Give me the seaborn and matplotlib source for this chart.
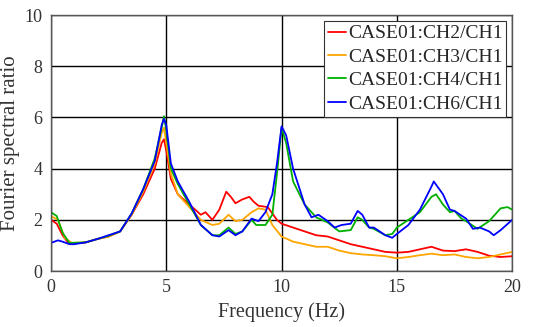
import numpy as np
import pandas as pd
import seaborn as sns
import matplotlib
matplotlib.use("Agg")
import matplotlib.pyplot as plt

series_names = ["CASE01:CH2/CH1", "CASE01:CH3/CH1", "CASE01:CH4/CH1", "CASE01:CH6/CH1"]
colors = ["#ff0000", "#ffa500", "#00b000", "#0000ff"]

ch2_f = [0, 0.25, 0.5, 0.75, 1.0, 1.5, 2.0, 2.5, 3.0, 3.5, 4.0, 4.5, 4.8, 4.9, 5.0, 5.2, 5.5, 6.0, 6.5, 6.7, 7.0, 7.3, 7.6, 7.8, 8.0, 8.3, 8.6, 8.8, 9.0, 9.4, 9.8, 10.0, 10.5, 11.0, 11.5, 12.0, 12.5, 13.0, 13.5, 14.0, 14.5, 15.0, 15.5, 16.0, 16.5, 17.0, 17.5, 18.0, 18.5, 19.0, 19.5, 20.0]
ch2_v = [2.0, 1.85, 1.4, 1.1, 1.08, 1.12, 1.25, 1.35, 1.55, 2.2, 3.0, 4.0, 5.0, 5.15, 4.7, 3.6, 3.0, 2.6, 2.2, 2.3, 2.0, 2.4, 3.1, 2.9, 2.65, 2.8, 2.9, 2.7, 2.55, 2.5, 2.0, 1.85, 1.7, 1.55, 1.4, 1.35, 1.2, 1.05, 0.95, 0.85, 0.75, 0.72, 0.75, 0.85, 0.95, 0.8, 0.78, 0.85, 0.75, 0.6, 0.55, 0.58]

ch3_f = [0, 0.3, 0.6, 0.9, 1.5, 2.0, 2.5, 3.0, 3.5, 4.0, 4.5, 4.8, 4.9, 5.0, 5.2, 5.5, 6.0, 6.5, 7.0, 7.3, 7.7, 8.0, 8.3, 8.7, 9.0, 9.3, 9.6, 10.0, 10.5, 11.0, 11.5, 12.0, 12.5, 13.0, 13.5, 14.0, 14.5, 15.0, 15.5, 16.0, 16.5, 17.0, 17.5, 18.0, 18.5, 19.0, 19.5, 20.0]
ch3_v = [2.15, 2.0, 1.3, 1.1, 1.12, 1.25, 1.35, 1.55, 2.2, 3.1, 4.2, 5.4, 5.6, 5.0, 3.8, 3.0, 2.5, 2.0, 1.8, 1.85, 2.2, 1.95, 2.0, 2.3, 2.45, 2.4, 1.8, 1.35, 1.15, 1.05, 0.95, 0.95, 0.8, 0.7, 0.65, 0.62, 0.58, 0.5, 0.55, 0.62, 0.68, 0.62, 0.65, 0.55, 0.5, 0.55, 0.65, 0.75]

ch4_f = [0, 0.25, 0.5, 0.8, 1.5, 2.0, 2.5, 3.0, 3.5, 4.0, 4.5, 4.8, 4.9, 5.0, 5.2, 5.5, 6.0, 6.5, 7.0, 7.3, 7.7, 8.0, 8.3, 8.7, 8.9, 9.3, 9.6, 9.8, 10.0, 10.2, 10.5, 11.0, 11.5, 12.0, 12.5, 13.0, 13.3, 13.5, 13.8, 14.0, 14.5, 14.8, 15.0, 15.5, 16.0, 16.5, 16.7, 17.0, 17.3, 17.5, 17.8, 18.0, 18.5, 19.0, 19.5, 19.8, 20.0]
ch4_v = [2.3, 2.15, 1.5, 1.1, 1.12, 1.25, 1.38, 1.55, 2.25, 3.2, 4.4, 5.6, 6.05, 5.5, 4.0, 3.4, 2.6, 1.8, 1.4, 1.4, 1.7, 1.45, 1.55, 2.0, 1.8, 1.8, 2.2, 3.8, 5.6, 5.0, 3.5, 2.6, 2.1, 1.9, 1.55, 1.6, 2.1, 2.0, 1.7, 1.65, 1.4, 1.45, 1.7, 2.0, 2.3, 2.9, 3.0, 2.6, 2.3, 2.35, 2.05, 1.95, 1.65, 1.95, 2.45, 2.5, 2.4]

ch6_f = [0, 0.3, 0.5, 0.8, 1.0, 1.5, 2.0, 2.5, 3.0, 3.5, 4.0, 4.5, 4.8, 4.9, 5.0, 5.2, 5.5, 6.0, 6.5, 7.0, 7.3, 7.7, 8.0, 8.3, 8.7, 9.0, 9.3, 9.6, 9.8, 10.0, 10.2, 10.5, 11.0, 11.3, 11.6, 12.0, 12.3, 12.6, 13.0, 13.3, 13.5, 13.8, 14.0, 14.5, 14.8, 15.0, 15.5, 16.0, 16.5, 16.6, 17.0, 17.3, 17.5, 18.0, 18.3, 18.6, 19.0, 19.2, 19.5, 20.0]
ch6_v = [1.1, 1.2, 1.15, 1.05, 1.05, 1.12, 1.25, 1.4, 1.55, 2.25, 3.2, 4.3, 5.7, 5.95, 5.7, 4.2, 3.5, 2.7, 1.8, 1.4, 1.35, 1.6, 1.4, 1.55, 2.05, 1.95, 2.3, 3.0, 4.2, 5.65, 5.3, 4.0, 2.6, 2.1, 2.2, 1.95, 1.7, 1.8, 1.85, 2.35, 2.2, 1.7, 1.7, 1.4, 1.3, 1.45, 1.8, 2.4, 3.3, 3.5, 3.0, 2.4, 2.35, 2.05, 1.65, 1.7, 1.55, 1.4, 1.6, 2.0]

frames = []
for name, f, v in zip(series_names, [ch2_f, ch3_f, ch4_f, ch6_f], [ch2_v, ch3_v, ch4_v, ch6_v]):
    frames.append(pd.DataFrame({"freq": f, "ratio": v, "series": name}))
df = pd.concat(frames, ignore_index=True)

sns.set_theme(style="white")
plt.rcParams["font.family"] = ["Liberation Serif", "DejaVu Serif"]

fig = plt.figure(figsize=(5.59, 3.27), dpi=100)
ax = fig.add_axes([0.0912, 0.171, 0.825, 0.783])
sns.lineplot(data=df, x="freq", y="ratio", hue="series", hue_order=series_names,
             palette=colors, linewidth=1.3, ax=ax, sort=True, estimator=None)

ax.set_xlim(0, 20)
ax.set_ylim(0, 10)
ax.set_xticks([0, 5, 10, 15, 20])
ax.set_yticks([0, 2, 4, 6, 8, 10])
ax.grid(True, color="black", linewidth=1.0)
ax.set_axisbelow(True)
for s in ax.spines.values():
    s.set_color("#555555")
    s.set_linewidth(1.0)
ax.tick_params(labelsize=13, colors="#333333", length=0, pad=6)
ax.set_xlabel("Frequency (Hz)", fontsize=14.5, color="#333333", labelpad=4)
ax.set_ylabel("Fourier spectral ratio", fontsize=15, color="#333333", labelpad=3)

leg = ax.legend(loc="upper right", fontsize=14, handlelength=0.9, handletextpad=0.1,
                borderpad=0.2, labelspacing=0.3, borderaxespad=0.3, fancybox=False,
                framealpha=1, edgecolor="#333333")
leg.get_frame().set_linewidth(0.8)

fig.savefig("out.png", dpi=100)
